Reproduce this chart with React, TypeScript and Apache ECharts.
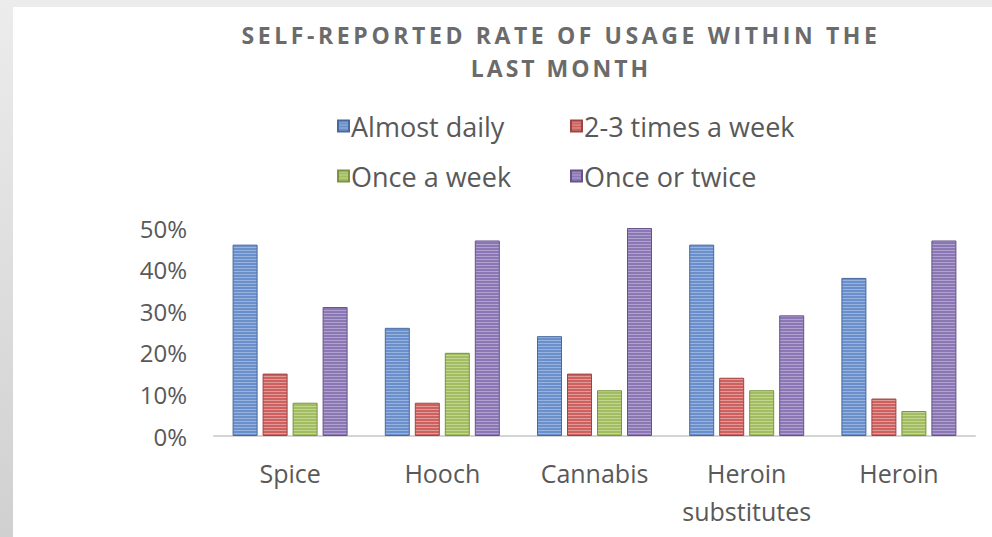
import React, { useEffect, useRef } from "react";
import * as echarts from "echarts";

const categories = ["Spice", "Hooch", "Cannabis", "Heroin\nsubstitutes", "Heroin"];
const seriesNames = ["Almost daily", "2-3 times a week", "Once a week", "Once or twice"];
const almostDaily = [46, 26, 24, 46, 38];
const twoThreeWeek = [15, 8, 15, 14, 9];
const onceWeek = [8, 20, 11, 11, 6];
const onceOrTwice = [31, 47, 50, 29, 47];
const yTicks = [0, 10, 20, 30, 40, 50];
const titleLines = ["SELF-REPORTED RATE OF USAGE WITHIN THE", "LAST MONTH"];

const baseColors = ["#6a8fcb", "#cc615f", "#a2bc60", "#8a77b3"];
const stripeColors = ["#98b3de", "#e29a98", "#c3d593", "#afa2cf"];
const borderColors = ["#46699f", "#a04442", "#7a9440", "#65538b"];

function makePattern(base: string, light: string) {
  const c = document.createElement("canvas");
  c.width = 6;
  c.height = 3;
  const ctx = c.getContext("2d")!;
  ctx.fillStyle = base;
  ctx.fillRect(0, 0, 6, 3);
  ctx.fillStyle = light;
  ctx.fillRect(0, 1, 6, 1);
  return { image: c, repeat: "repeat" } as any;
}

export default function App() {
  const ref = useRef<HTMLDivElement>(null);
  useEffect(() => {
    if (!ref.current) return;
    const chart = echarts.init(ref.current, undefined, { renderer: "svg" });
    const data = [almostDaily, twoThreeWeek, onceWeek, onceOrTwice];
    const fixSpacing = () => {
      const texts = ref.current?.querySelectorAll("text") || [];
      texts.forEach((t) => {
        const s = t.textContent || "";
        if (titleLines.includes(s)) {
          (t as SVGTextElement).style.letterSpacing = s === titleLines[1] ? "3px" : "3.6px";
        }
      });
    };
    chart.on("rendered", fixSpacing);
    const legendText = {
      fontFamily: "Open Sans",
      fontSize: 27,
      color: "#595959",
      lineHeight: 30,
      padding: [0, 0, 0, -3],
    };
    chart.setOption({
      animation: false,
      backgroundColor: "#ffffff",
      graphic: [
        {
          type: "rect",
          shape: { x: 0, y: 0, width: 992, height: 7 },
          style: { fill: "#ececec" },
          silent: true,
        },
        {
          type: "rect",
          shape: { x: 0, y: 0, width: 13, height: 537 },
          style: {
            fill: new echarts.graphic.LinearGradient(0, 0, 0, 1, [
              { offset: 0, color: "#ececec" },
              { offset: 1, color: "#d0d0d0" },
            ]),
          },
          silent: true,
        },
      ],
      title: {
        text: titleLines.join("\n"),
        left: 556,
        top: 13,
        textAlign: "center",
        textStyle: {
          fontFamily: "Open Sans",
          fontWeight: "bold",
          fontSize: 23,
          color: "#6b6b6b",
          lineHeight: 33,
        },
      },
      legend: [
        {
          data: [seriesNames[0], seriesNames[2]],
          orient: "vertical",
          left: 332,
          top: 106,
          itemWidth: 11,
          itemHeight: 11,
          itemGap: 20,
          icon: "rect",
          textStyle: legendText,
        },
        {
          data: [seriesNames[1], seriesNames[3]],
          orient: "vertical",
          left: 565,
          top: 106,
          itemWidth: 11,
          itemHeight: 11,
          itemGap: 20,
          icon: "rect",
          textStyle: legendText,
        },
      ],
      grid: { left: 214, right: 17, top: 228, bottom: 101, containLabel: false },
      xAxis: {
        type: "category",
        data: categories,
        axisLine: { lineStyle: { color: "#d4d4d4", width: 2 } },
        axisTick: { show: false },
        axisLabel: {
          fontFamily: "Open Sans",
          fontSize: 25,
          color: "#595959",
          margin: 18,
          lineHeight: 38,
          interval: 0,
        },
      },
      yAxis: {
        type: "value",
        min: yTicks[0],
        max: yTicks[yTicks.length - 1],
        interval: 10,
        axisLine: { show: false },
        axisTick: { show: false },
        splitLine: { show: false },
        axisLabel: {
          formatter: "{value}%",
          fontFamily: "Open Sans",
          fontSize: 24,
          color: "#595959",
          margin: 27,
        },
      },
      series: seriesNames.map((name, i) => ({
        name,
        type: "bar",
        data: data[i],
        barWidth: 25,
        barGap: "20%",
        itemStyle: {
          color: makePattern(baseColors[i], stripeColors[i]),
          borderColor: borderColors[i],
          borderWidth: 1,
        },
      })),
    });
    fixSpacing();
    const tm = setTimeout(fixSpacing, 50);
    return () => {
      clearTimeout(tm);
      chart.dispose();
    };
  }, []);
  return (
    <div
      ref={ref}
      style={{ position: "fixed", left: 0, top: 0, width: 992, height: 537 }}
    />
  );
}
